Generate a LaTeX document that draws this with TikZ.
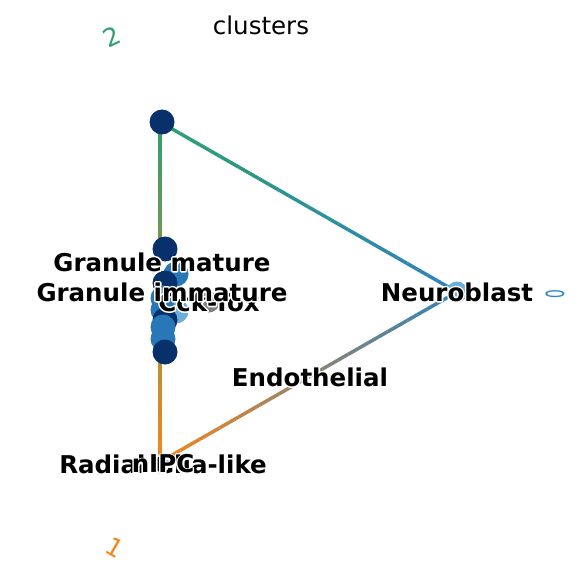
\documentclass[tikz,border=0pt]{standalone}
\usepackage{fontspec}
\setmainfont{DejaVu Sans}
\usetikzlibrary{calc}
\definecolor{navy}{HTML}{08306B}
\definecolor{midblue}{HTML}{2878B8}
\definecolor{lightblue}{HTML}{6BAED6}
\definecolor{cgreen}{HTML}{2CA06E}
\definecolor{cblue}{HTML}{2F82BE}
\definecolor{corange}{HTML}{F5861C}
\definecolor{cgrey}{HTML}{7F7F7F}
\tikzstyle{dot}=[circle, inner sep=0pt, minimum size=25pt]
\tikzstyle{small}=[dot, minimum size=21pt]
\tikzstyle{lab}=[font=\fontsize{24.5}{28}\selectfont\bfseries, inner sep=0pt]
\tikzstyle{corner}=[font=\fontsize{25}{28}\selectfont, inner sep=0pt]
\tikzstyle{edge}=[line width=3.5pt]
\def\nseg{30}
% white outline behind a label
\newcommand{\halo}[1]{\leavevmode\rlap{\special{pdf:literal direct q 1 Tr 3 w 1 J 1 j 1 1 1 RG}#1\special{pdf:literal direct Q}}#1}
% colour-graded connector between two named nodes
\newcommand{\gradedge}[4]{%
  \foreach \i in {1,...,\nseg} {
    \pgfmathsetmacro\ta{(\i-1)/\nseg}
    \pgfmathsetmacro\tb{\i/\nseg}
    \pgfmathsetmacro\pc{100-100*(\i-0.5)/\nseg}
    \colorlet{segcol}{#3!\pc!#4}
    \draw[edge, segcol] ($(#1)!\ta!(#2)$) -- ($(#1)!\tb!(#2)$);
  }}

\begin{document}
\begin{tikzpicture}[x=1pt,y=-1pt]
    \useasboundingbox (0,0) rectangle (583,577);
    \coordinate (top) at (160,122);
    \coordinate (bottom) at (160,462);
    \coordinate (right) at (457,292);
    \gradedge{top}{right}{cgreen}{cblue}
    \gradedge{top}{bottom}{cgreen}{corange}
    \gradedge{bottom}{right}{corange}{cblue}
    % vertices
    \node (v2) [dot, fill=navy] at (162,122) {};
    \node (v0) [small, fill=lightblue] at (457,292) {};
    \node (v1) [small, fill=lightblue] at (163,464) {};
    % cluster along the left edge
    \path (v2)+(3,127) node (gm) [dot, fill=navy] {};
    \path (gm)+(11,25) node (p1) [dot, fill=midblue] {};
    \path (gm)+(0,34) node (p2) [dot, fill=navy] {};
    \path (gm)+(11,62) node (p3) [dot, fill=lightblue] {};
    \path (gm)+(-2,49) node (p4) [dot, fill=midblue] {};
    \path (gm)+(-2,61) node (p5) [dot, fill=midblue] {};
    \path (gm)+(0,71) node (p6) [dot, fill=navy] {};
    \path (gm)+(-2,78) node (p7) [dot, fill=midblue] {};
    \path (gm)+(-2,90) node (p8) [dot, fill=midblue] {};
    \path (gm)+(0,103) node (p9) [dot, fill=navy] {};
    \path (gm)+(44,53) node (cck) [small, fill=cgrey] {};
    % labels
    \node (title) [font=\fontsize{24.5}{28}\selectfont, inner sep=0pt] at (261,25) {clusters};
    \node (lcck) [lab] at (cck) {\halo{Cck-Tox}};
    \path (gm)+(-3,13) node (lgm) [lab] {\halo{Granule mature}};
    \path (gm)+(-3,43) node (lgi) [lab] {\halo{Granule immature}};
    \path (v0)+(-147,85) node (lend) [lab] {\halo{Endothelial}};
    \node (lneu) [lab] at (v0) {\halo{Neuroblast}};
    \node (lrad) [lab] at (v1) {\halo{Radial Glia-like}};
    \node (lnipc) [lab] at (v1) {\halo{nIPC}};
    % corner labels
    \node (c2) [corner, text=cgreen, rotate=25] at (112,37) {2};
    \node (c0) [corner, text=cblue, rotate=90] at (555,294) {\scalebox{0.55}[1]{0}};
    \node (c1) [corner, text=corange, rotate=-30] at (115,548) {1};
\end{tikzpicture}
\end{document}
